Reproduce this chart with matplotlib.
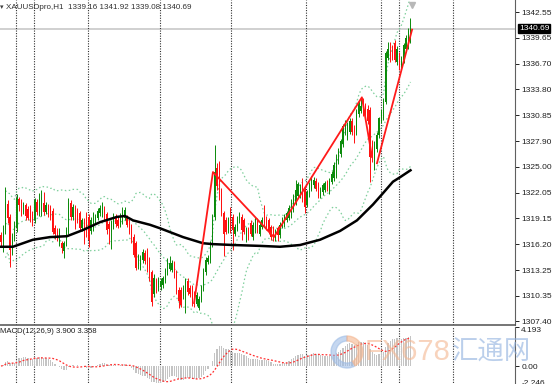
import numpy as np
import pandas as pd
import matplotlib
matplotlib.use('Agg')
import matplotlib.pyplot as plt
import matplotlib.transforms as mtransforms
from matplotlib.patches import Wedge

plt.rcParams['font.family'] = ['Liberation Sans', 'DejaVu Sans']

# XAUUSDpro H1 candles
opens = [
    1317.2, 1316.6, 1317.8, 1320.8, 1319.3, 1315.6, 1317.0, 1318.0, 1321.3, 1321.0,
    1319.9, 1320.6, 1320.2, 1320.3, 1319.8, 1318.9, 1321.0, 1319.7, 1320.0, 1320.9,
    1319.9, 1320.5, 1320.4, 1320.0, 1318.0, 1317.7, 1316.4, 1316.3, 1315.4, 1316.2,
    1317.6, 1320.9, 1319.3, 1320.3, 1320.0, 1319.7, 1318.0, 1318.8, 1319.5, 1319.3,
    1317.7, 1318.0, 1318.9, 1319.2, 1319.7, 1319.6, 1320.2, 1319.6, 1318.5, 1317.6,
    1318.2, 1319.3, 1319.0, 1318.4, 1318.8, 1319.2, 1319.2, 1318.8, 1318.2, 1317.0,
    1316.3, 1313.7, 1313.5, 1314.4, 1315.2, 1315.5, 1314.4, 1313.0, 1310.5, 1312.0,
    1311.2, 1311.3, 1311.5, 1312.1, 1313.0, 1313.4, 1313.3, 1314.0, 1313.0, 1311.0,
    1311.0, 1310.3, 1311.0, 1312.0, 1311.2, 1311.3, 1310.6, 1309.4, 1308.9, 1309.9,
    1311.2, 1313.0, 1314.2, 1314.4, 1316.2, 1319.3, 1324.9, 1325.4, 1322.3, 1319.7,
    1319.0, 1317.8, 1320.1, 1319.3, 1317.4, 1318.0, 1318.9, 1319.3, 1318.9, 1316.7,
    1317.8, 1318.6, 1317.0, 1317.8, 1318.9, 1317.4, 1318.2, 1319.7, 1319.1, 1318.9,
    1318.1, 1318.0, 1316.9, 1318.0, 1317.2, 1318.3, 1318.5, 1319.0, 1319.2, 1319.5,
    1320.2, 1321.0, 1321.7, 1321.8, 1323.1, 1322.4, 1320.7, 1321.9, 1322.5, 1322.9,
    1323.4, 1323.0, 1321.7, 1322.1, 1322.4, 1323.2, 1322.2, 1323.3, 1323.7, 1324.0,
    1325.6, 1326.4, 1327.6, 1328.9, 1328.4, 1329.0, 1330.2, 1329.4, 1328.9, 1331.0,
    1331.4, 1331.9, 1331.9, 1331.6, 1331.5, 1327.8, 1325.9, 1327.0, 1328.6, 1330.3,
    1330.6, 1332.4, 1337.4, 1338.2, 1338.5, 1339.1, 1336.9, 1337.8, 1336.3, 1337.1,
    1338.4, 1338.7, 1339.16]
highs = [
    1317.6, 1318.4, 1322.7, 1321.2, 1319.6, 1317.5, 1318.8, 1321.9, 1321.6, 1321.3,
    1321.0, 1320.9, 1320.5, 1320.6, 1320.0, 1321.5, 1321.3, 1322.0, 1322.4, 1322.1,
    1321.0, 1320.8, 1320.6, 1320.3, 1318.4, 1318.0, 1318.0, 1316.6, 1316.6, 1318.1,
    1321.4, 1321.2, 1320.8, 1320.6, 1320.3, 1320.0, 1319.2, 1319.2, 1319.8, 1319.6,
    1319.3, 1319.9, 1319.6, 1320.3, 1320.6, 1321.0, 1320.5, 1319.9, 1318.8, 1319.0,
    1319.7, 1319.6, 1319.4, 1319.7, 1320.4, 1320.4, 1319.5, 1319.1, 1318.5, 1317.3,
    1316.6, 1315.1, 1315.0, 1315.7, 1315.5, 1315.8, 1314.7, 1313.3, 1312.8, 1312.3,
    1312.5, 1312.4, 1312.6, 1313.5, 1314.6, 1314.8, 1314.4, 1314.3, 1313.3, 1311.3,
    1311.3, 1311.5, 1312.4, 1312.3, 1311.5, 1311.6, 1310.9, 1310.7, 1310.3, 1311.6,
    1313.5, 1314.7, 1315.0, 1316.6, 1319.6, 1327.5, 1325.4, 1325.6, 1322.6, 1320.0,
    1319.3, 1319.3, 1320.4, 1319.6, 1318.5, 1319.4, 1319.9, 1319.6, 1319.2, 1318.1,
    1318.1, 1318.9, 1318.7, 1319.3, 1319.2, 1318.7, 1319.3, 1320.6, 1319.4, 1319.2,
    1318.4, 1318.3, 1317.9, 1318.3, 1318.7, 1319.3, 1319.6, 1320.0, 1320.6, 1321.3,
    1321.9, 1323.5, 1323.3, 1323.0, 1323.7, 1322.7, 1322.4, 1323.3, 1323.9, 1323.8,
    1323.7, 1323.3, 1322.7, 1323.2, 1323.4, 1323.5, 1323.7, 1324.5, 1325.5, 1326.4,
    1327.1, 1328.2, 1329.9, 1330.3, 1330.1, 1330.5, 1330.5, 1329.7, 1331.6, 1332.5,
    1332.8, 1332.8, 1332.2, 1332.0, 1331.8, 1328.1, 1327.9, 1328.9, 1330.7, 1331.6,
    1332.8, 1338.2, 1339.2, 1339.2, 1338.8, 1339.4, 1338.7, 1338.1, 1337.6, 1339.1,
    1340.0, 1340.8, 1341.92]
lows = [
    1316.0, 1315.3, 1317.4, 1318.6, 1313.6, 1315.0, 1316.5, 1317.6, 1320.0, 1319.4,
    1319.6, 1319.0, 1318.9, 1318.7, 1318.3, 1318.6, 1319.5, 1319.4, 1319.4, 1319.5,
    1319.6, 1319.3, 1319.0, 1317.3, 1316.8, 1316.6, 1316.0, 1315.2, 1314.6, 1316.0,
    1317.3, 1319.0, 1319.0, 1317.9, 1318.6, 1317.7, 1317.7, 1316.2, 1317.0, 1315.9,
    1317.3, 1317.7, 1318.5, 1318.9, 1319.4, 1319.3, 1318.8, 1317.4, 1316.2, 1315.7,
    1317.9, 1318.2, 1318.0, 1318.1, 1318.5, 1318.9, 1318.1, 1317.3, 1316.3, 1314.7,
    1313.2, 1313.4, 1313.2, 1314.1, 1313.9, 1313.0, 1312.0, 1309.2, 1310.2, 1310.6,
    1310.9, 1311.0, 1311.2, 1311.8, 1312.7, 1313.1, 1313.0, 1312.3, 1310.5, 1308.9,
    1309.0, 1310.0, 1308.4, 1310.4, 1310.2, 1309.2, 1309.1, 1309.2, 1308.7, 1309.6,
    1310.9, 1312.7, 1313.9, 1314.1, 1315.9, 1319.0, 1322.4, 1321.2, 1319.4, 1314.8,
    1317.3, 1317.5, 1317.5, 1315.5, 1317.1, 1317.7, 1318.6, 1316.7, 1317.3, 1316.4,
    1316.7, 1317.1, 1316.7, 1317.5, 1317.5, 1317.1, 1317.9, 1318.3, 1317.8, 1317.3,
    1316.7, 1316.6, 1316.5, 1316.6, 1316.9, 1318.0, 1318.2, 1318.7, 1318.9, 1319.2,
    1319.9, 1320.7, 1321.4, 1321.5, 1321.0, 1319.7, 1320.4, 1321.6, 1322.2, 1322.6,
    1322.2, 1321.4, 1321.4, 1321.8, 1322.1, 1322.2, 1321.9, 1323.0, 1323.4, 1323.7,
    1325.3, 1326.1, 1327.3, 1328.6, 1328.1, 1328.7, 1328.6, 1327.7, 1328.6, 1330.7,
    1331.1, 1330.8, 1330.2, 1329.9, 1323.3, 1325.5, 1324.6, 1326.7, 1328.3, 1330.0,
    1330.3, 1332.1, 1337.1, 1336.9, 1337.1, 1336.9, 1336.6, 1336.0, 1336.0, 1336.8,
    1338.1, 1338.4, 1339.08]
closes = [
    1316.4, 1318.0, 1321.0, 1319.2, 1315.5, 1317.0, 1318.2, 1321.4, 1320.6, 1319.8,
    1320.6, 1319.4, 1319.2, 1318.9, 1318.7, 1321.2, 1319.9, 1321.3, 1321.6, 1319.8,
    1320.7, 1319.6, 1319.3, 1317.6, 1317.3, 1317.0, 1317.7, 1315.8, 1316.3, 1317.8,
    1320.9, 1319.3, 1320.4, 1318.2, 1319.0, 1318.0, 1318.9, 1316.5, 1317.8, 1316.7,
    1319.0, 1319.6, 1319.3, 1320.0, 1320.3, 1320.6, 1319.2, 1317.8, 1317.9, 1318.7,
    1319.4, 1318.5, 1318.3, 1319.4, 1319.7, 1320.1, 1318.4, 1317.6, 1316.6, 1315.0,
    1313.5, 1314.8, 1314.7, 1315.3, 1314.3, 1313.3, 1312.9, 1309.6, 1312.4, 1311.0,
    1312.2, 1312.0, 1312.3, 1313.2, 1314.3, 1314.1, 1314.1, 1312.6, 1310.8, 1309.7,
    1309.3, 1311.2, 1312.1, 1310.7, 1310.5, 1309.5, 1309.4, 1310.4, 1310.0, 1311.3,
    1313.2, 1314.4, 1314.6, 1316.3, 1319.3, 1324.4, 1322.8, 1321.6, 1319.7, 1317.4,
    1317.6, 1319.0, 1317.8, 1317.8, 1318.2, 1319.1, 1319.6, 1317.8, 1317.6, 1317.8,
    1317.0, 1317.4, 1318.4, 1318.9, 1317.8, 1318.4, 1319.0, 1318.6, 1318.1, 1317.6,
    1317.0, 1316.9, 1317.6, 1317.2, 1318.4, 1319.0, 1319.3, 1319.7, 1320.3, 1321.0,
    1321.6, 1322.3, 1323.0, 1322.7, 1321.3, 1320.4, 1322.1, 1323.0, 1323.6, 1323.5,
    1322.5, 1321.7, 1322.4, 1322.9, 1323.1, 1322.5, 1323.4, 1324.2, 1325.2, 1326.1,
    1326.8, 1327.9, 1329.6, 1330.0, 1329.8, 1330.2, 1328.9, 1328.0, 1331.3, 1332.2,
    1331.9, 1331.1, 1330.5, 1330.2, 1326.1, 1326.4, 1327.6, 1328.6, 1330.5, 1331.3,
    1332.5, 1337.9, 1338.4, 1337.2, 1337.4, 1337.2, 1338.4, 1336.3, 1337.3, 1338.8,
    1339.7, 1340.4, 1340.69]

# black moving average, read at a few bars
ma_bar = [0, 5.3, 14.2, 21.8, 29.3, 36.4, 44, 51.6, 55.1, 58.7, 66.2, 70.7, 80.9,
          89.8, 94.2, 103.1, 115.1, 124, 132.9, 141.8, 150.7, 158.2, 165.3, 169.8,
          174.2, 177.3, 182]
ma_val = [1315.9, 1315.9, 1316.7, 1317.0, 1317.1, 1317.8, 1318.7, 1319.3, 1319.4,
          1318.9, 1318.4, 1318.0, 1317.0, 1316.3, 1316.2, 1316.1, 1316.0, 1315.9,
          1316.1, 1316.7, 1317.7, 1318.9, 1320.7, 1322.0, 1323.3, 1323.8, 1324.6]

# red trend lines drawn on the chart
zz1_bar = [85.8, 94.2, 121.3, 160.4, 164.9]
zz1_val = [1309.5, 1324.4, 1317.0, 1332.9, 1326.1]
zz2_bar = [167.1, 182.7]
zz2_val = [1325.4, 1340.6]

# vertical grid lines (bar positions)
vlines_bar = [6.7, 14.7, 38.7, 70.7, 102.2, 135.6, 168.9, 176.9, 200.9]

price_ticks = [1342.55, 1339.65, 1336.70, 1333.80, 1330.85, 1327.90, 1325.00,
               1322.05, 1319.15, 1316.20, 1313.25, 1310.35, 1307.40]
last_price = 1340.69

df = pd.DataFrame({'open': opens, 'high': highs, 'low': lows, 'close': closes})
x = np.arange(len(df))

# Bollinger bands 20, 2
mid = df['close'].rolling(20, min_periods=3).mean()
sd = df['close'].rolling(20, min_periods=3).std(ddof=0)
upper = mid + 2 * sd
lower = mid - 2 * sd

# MACD 12,26,9
ema12 = df['close'].ewm(span=12, adjust=False).mean()
ema26 = df['close'].ewm(span=26, adjust=False).mean()
macd = ema12 - ema26
signal = macd.rolling(9, min_periods=1).mean()

W, H = 553, 384
fig = plt.figure(figsize=(W / 100, H / 100), dpi=100)
ax = fig.add_axes([0, 59 / H, 515 / W, 325 / H])
ax2 = fig.add_axes([0, -3 / H, 515 / W, 60 / H])

xmin, xmax = -1 / 2.25, 514 / 2.25
green, red = '#0a8a0a', '#ff1010'

up = df['close'] >= df['open']
cols = np.where(up, green, red)
ax.vlines(x, df['low'], df['high'], colors=cols, lw=0.7, zorder=3)
body_lo = np.minimum(df['open'], df['close'])
body_h = np.maximum(np.abs(df['close'] - df['open']), 0.08)
ax.bar(x, body_h, bottom=body_lo, width=0.62, color=cols, lw=0, zorder=4)

band_style = dict(color='#7fcf9c', lw=0.9, ls=(0, (1.2, 2.0)), zorder=2)
ax.plot(x, upper, **band_style)
ax.plot(x, mid, **band_style)
ax.plot(x, lower, **band_style)

ax.plot(ma_bar, ma_val, color='black', lw=1.8, zorder=5)
ax.plot(zz1_bar, zz1_val, color='#ff1a1a', lw=1.3, zorder=6)
ax.plot(zz2_bar, zz2_val, color='#ff1a1a', lw=1.3, zorder=6)

ax.axhline(last_price, color='#c8c8c8', lw=1.2, zorder=1)

for a in (ax, ax2):
    for v in vlines_bar:
        a.axvline(v, color='#303030', lw=0.8, ls=(0, (1, 1.3)), zorder=1)
    a.set_xlim(xmin, xmax)
    a.set_xticks([])
    for s in ('left', 'top'):
        a.spines[s].set_visible(False)
    a.spines['right'].set_color('#606060')
    a.yaxis.tick_right()
    a.tick_params(axis='y', direction='out', length=3, width=0.7, pad=1.5,
                  labelsize=6, colors='#202020')

ax.set_ylim(1307.0, 1343.97)
ax.set_yticks(price_ticks)
ax.set_yticklabels(['%.2f' % p for p in price_ticks])
ax.spines['bottom'].set_color('#505050')
ax.spines['bottom'].set_linewidth(1.1)

# current price box
trans = mtransforms.blended_transform_factory(ax.transAxes, ax.transData)
ax.text(1.008, last_price, '%.2f' % last_price, transform=trans, fontsize=6,
        color='white', va='center', ha='left',
        bbox=dict(boxstyle='square,pad=0.12', fc='black', ec='black'), zorder=10)

# shift marker at top
ax.plot([len(df) - 0.5], [0.985],
        transform=mtransforms.blended_transform_factory(ax.transData, ax.transAxes),
        marker='v', ms=4, color='#b8b8b8', clip_on=False)

ax.text(0.012, 0.978, 'XAUUSDpro,H1  1339.16 1341.92 1339.08 1340.69',
        transform=ax.transAxes, fontsize=5.8, color='#303030', va='center', ha='left')
ax.text(0.0, 0.978, '\u25be', transform=ax.transAxes, fontsize=5, color='#404040',
        va='center', ha='left')

# MACD panel
ax2.bar(x, macd, width=0.5, color='#c4c4c4', lw=0, zorder=2)
ax2.plot(x, signal, color='#ff3030', lw=0.9, ls=(0, (1.5, 1.5)), zorder=3)
ax2.set_ylim(-2.246, 4.193)
ax2.set_yticks([4.193, 0.0, -2.246])
ax2.set_yticklabels(['4.193', '0.00', '-2.246'])
lbls = ax2.get_yticklabels()
lbls[0].set_va('top')
lbls[2].set_va('bottom')
ax2.spines['bottom'].set_visible(False)
ax2.text(0.0, 0.92, 'MACD(12,26,9) 3.900 3.358', transform=ax2.transAxes,
         fontsize=5.6, color='#202020', va='center', ha='left', zorder=10)

# watermark
fig.text(365 / W, 1 - 352 / H, 'FX678', fontsize=21, color='#f4b690', alpha=0.6,
         va='center', ha='left', zorder=20)
fig.text(452 / W, 1 - 352 / H, '汇通网', fontsize=19, color='#8fb0de', alpha=0.6,
         va='center', ha='left', family=['Noto Sans CJK SC', 'DejaVu Sans'], zorder=20)
c1 = Wedge((3.47, 0.32), 0.16, 90, 300, width=0.05, transform=fig.dpi_scale_trans,
           color='#9fbde6', alpha=0.6, zorder=20)
c2 = Wedge((3.47, 0.32), 0.16, 300, 450, width=0.05, transform=fig.dpi_scale_trans,
           color='#f4b690', alpha=0.6, zorder=20)
fig.add_artist(c1)
fig.add_artist(c2)

fig.savefig('out.png', dpi=100)
